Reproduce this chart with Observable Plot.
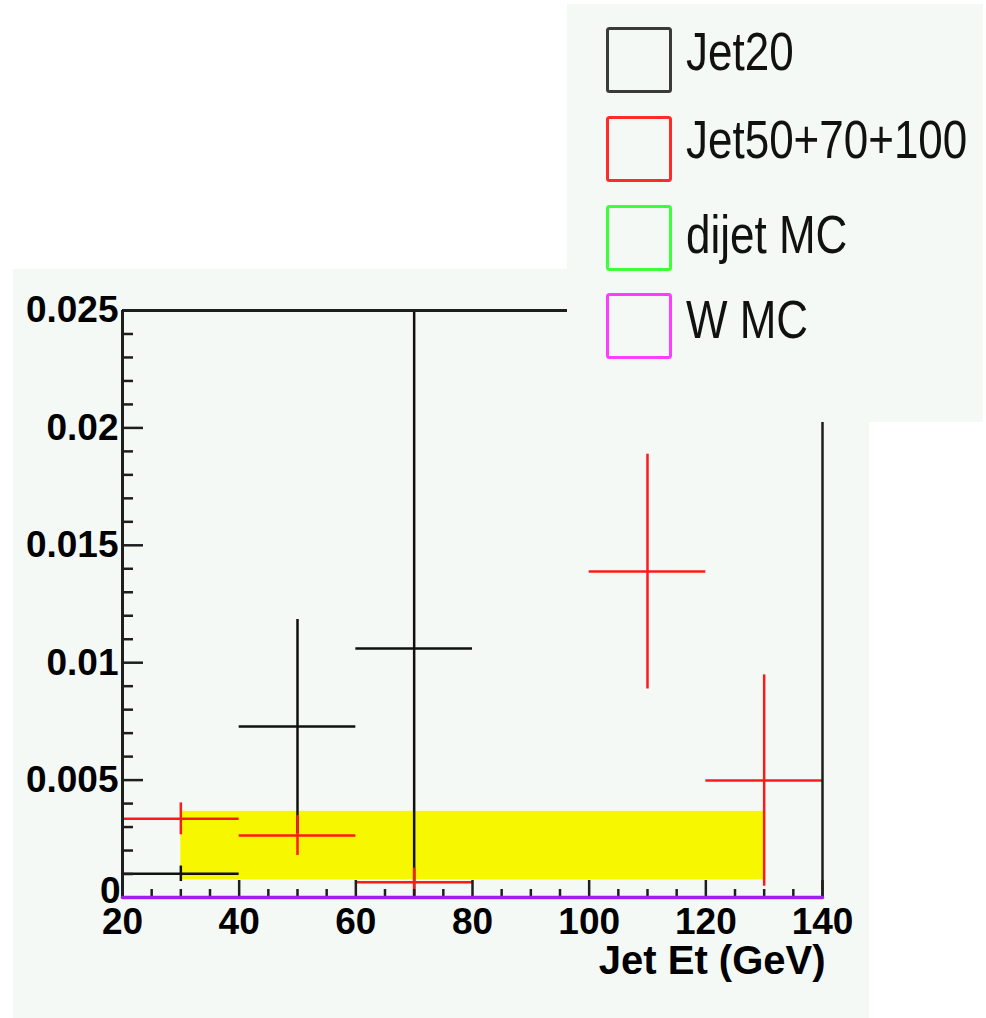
<!DOCTYPE html>
<html>
<head>
<meta charset="utf-8">
<script src="https://cdn.jsdelivr.net/npm/d3@7"></script>
<script src="https://cdn.jsdelivr.net/npm/@observablehq/plot@0.6"></script>
<style>
  html, body { margin: 0; padding: 0; background: #ffffff; }
  #stage { position: relative; width: 986px; height: 1018px; overflow: hidden; background: #ffffff; }
  #panel { position: absolute; left: 13px; top: 269px; width: 856px; height: 749px; background: #f4f9f6; }
  #chart { position: absolute; left: 0; top: 0; }
  #legend { position: absolute; left: 567px; top: 4px; }
</style>
</head>
<body>
<div id="stage">
  <div id="panel"></div>
  <div id="chart"></div>
  <div id="legend"></div>
</div>
<script>
// ---- data ----
const xMajorTicks = [20, 40, 60, 80, 100, 120, 140];
const xMinorTicks = [25, 30, 35, 45, 50, 55, 65, 70, 75, 85, 90, 95, 105, 110, 115, 125, 130, 135];
const yMajorTicks = [0.005, 0.01, 0.015, 0.02, 0.025];
const yZeroTick = [0];
const yMinorTicks = [0.001, 0.002, 0.003, 0.004, 0.006, 0.007, 0.008, 0.009, 0.011, 0.012, 0.013, 0.014,
                     0.016, 0.017, 0.018, 0.019, 0.021, 0.022, 0.023, 0.024];

// Jet20 (black)
const jet20Lo    = [20, 40, 60];
const jet20Hi    = [40, 60, 80];
const jet20X     = [30, 50, 70];
const jet20Y     = [0.00101, 0.00728, 0.0106];
const jet20Err   = [0.00033, 0.00456, 0.0165];

// Jet50+70+100 (red)
const jetHiLo    = [20, 40, 60, 100, 120];
const jetHiHi    = [40, 60, 80, 120, 140];
const jetHiX     = [30, 50, 70, 110, 130];
const jetHiY     = [0.00335, 0.00264, 0.00065, 0.01388, 0.00498];
const jetHiErr   = [0.00068, 0.00085, 0.0006, 0.0050, 0.0045];

// yellow MC band
const bandX = [30, 130];
const bandY = [0.00075, 0.00367];

// W MC (flat at zero)
const wmcX = [20, 140];
const wmcY = [0, 0];

const legendLabels = ["Jet20", "Jet50+70+100", "dijet MC", "W MC"];
const legendColors = ["#3a3a3a", "#ff2a2a", "#3cff3c", "#ff3cff"];

// ---- build tables ----
const jet20 = jet20X.map((x, i) => ({x, lo: jet20Lo[i], hi: jet20Hi[i], y: jet20Y[i], e: jet20Err[i]}));
const jetHi = jetHiX.map((x, i) => ({x, lo: jetHiLo[i], hi: jetHiHi[i], y: jetHiY[i], e: jetHiErr[i]}));
const band = [{x1: bandX[0], x2: bandX[1], y1: bandY[0], y2: bandY[1]}];
const wmc = wmcX.map((x, i) => ({x, y: wmcY[i]}));

const W = 986, H = 1018;
const mL = 122, mR = 164, mT = 310, mB = 121;
const frameW = W - mL - mR, frameH = H - mT - mB;
const frameColor = "#1e1e1e";
const black = "#111111";
const red = "#ff1a1a";
const allYMajor = yZeroTick.concat(yMajorTicks);

const chart = Plot.plot({
  width: W,
  height: H,
  marginLeft: mL,
  marginRight: mR,
  marginTop: mT,
  marginBottom: mB,
  style: {background: "transparent", fontFamily: "'Liberation Sans', Arial, sans-serif", color: "#000"},
  x: {domain: [20, 140]},
  y: {domain: [0, 0.025]},
  marks: [
    // yellow band
    Plot.rect(band, {x1: "x1", x2: "x2", y1: "y1", y2: "y2", fill: "#f7f700"}),
    // Jet20 error bars
    Plot.ruleY(jet20, {x1: "lo", x2: "hi", y: "y", stroke: black, strokeWidth: 2.5, clip: true}),
    Plot.ruleX(jet20, {x: "x", y1: d => d.y - d.e, y2: d => d.y + d.e, stroke: black, strokeWidth: 2.5, clip: true}),
    // Jet50+70+100 error bars
    Plot.ruleY(jetHi, {x1: "lo", x2: "hi", y: "y", stroke: red, strokeWidth: 2.5, clip: true}),
    Plot.ruleX(jetHi, {x: "x", y1: d => d.y - d.e, y2: d => d.y + d.e, stroke: red, strokeWidth: 2.5, clip: true}),
    // frame
    Plot.ruleY([0.025], {stroke: frameColor, strokeWidth: 3}),
    Plot.ruleX([140], {stroke: frameColor, strokeWidth: 2.5}),
    Plot.ruleX([20], {stroke: frameColor, strokeWidth: 3}),
    // y ticks (inside)
    Plot.tickY(allYMajor, {y: d => d, insetRight: frameW - 21, stroke: frameColor, strokeWidth: 2.5}),
    Plot.tickY(yMinorTicks, {y: d => d, insetRight: frameW - 11, stroke: frameColor, strokeWidth: 2.5}),
    // x ticks (inside)
    Plot.tickX(xMajorTicks, {x: d => d, insetTop: frameH - 17, stroke: frameColor, strokeWidth: 2.5}),
    Plot.tickX(xMinorTicks, {x: d => d, insetTop: frameH - 8, stroke: frameColor, strokeWidth: 2.5}),
    // W MC line at zero
    Plot.line(wmc, {x: "x", y: "y", stroke: "#a21ef0", strokeWidth: 3.5}),
    // axes labels
    Plot.axisY({ticks: yMajorTicks, tickSize: 0, tickPadding: 4, fontSize: 37, fontWeight: "bold",
                tickFormat: d => String(d), label: null}),
    Plot.text(yZeroTick, {y: d => d, frameAnchor: "left", textAnchor: "end", dx: -2, dy: -6,
                text: d => String(d), fontSize: 37, fontWeight: "bold", fill: "#000"}),
    Plot.axisX({ticks: xMajorTicks, tickSize: 0, tickPadding: 10, fontSize: 37, fontWeight: "bold",
                tickFormat: d => String(d), label: null}),
    Plot.text(["Jet Et (GeV)"], {frameAnchor: "bottom-right", textAnchor: "end", lineAnchor: "top",
                dy: 48, dx: 3, fontSize: 40, fontWeight: "bold", fill: "#000"})
  ]
});
document.getElementById("chart").appendChild(chart);

// ---- legend (overlay box, top right) ----
const lg = d3.select("#legend").append("svg")
  .attr("width", 416).attr("height", 418)
  .style("display", "block")
  .style("font-family", "'Liberation Sans', Arial, sans-serif");
lg.append("rect").attr("x", 0).attr("y", 0).attr("width", 416).attr("height", 418).attr("fill", "#f4f9f6");
const boxTops = [24, 113, 202, 290];
const baselines = [66, 154, 249, 334];
legendLabels.forEach((lab, i) => {
  lg.append("rect")
    .attr("x", 40.5).attr("y", boxTops[i] + 0.5)
    .attr("width", 63).attr("height", 63)
    .attr("rx", 2)
    .attr("fill", "none")
    .attr("stroke", legendColors[i])
    .attr("stroke-width", 3);
  lg.append("text")
    .attr("transform", `translate(119,${baselines[i]}) scale(1,1.2)`)
    .attr("font-size", 44)
    .attr("fill", "#111")
    .text(lab);
});
</script>
</body>
</html>
